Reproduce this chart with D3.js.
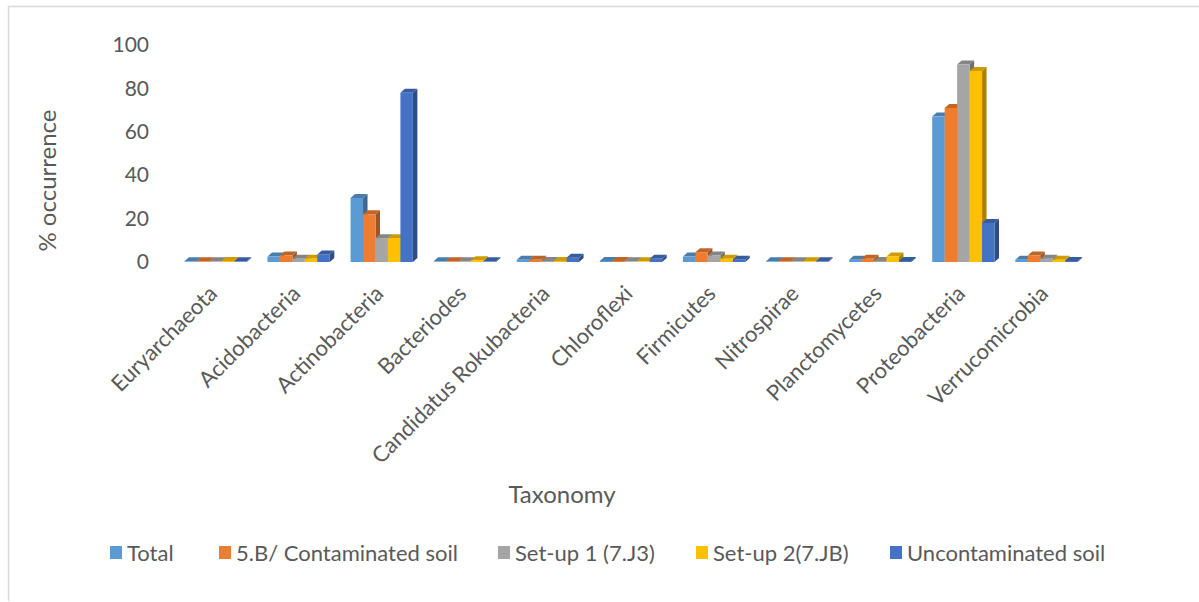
<!DOCTYPE html>
<html>
<head>
<meta charset="utf-8">
<script src="https://cdn.jsdelivr.net/npm/d3@7"></script>
<style>
  html, body { margin: 0; padding: 0; background: #fff; }
  svg { display: block; }
  text { font-family: Lato, "Open Sans", sans-serif; fill: #595959; }
</style>
</head>
<body>
<svg id="chart" width="1199" height="602"></svg>
<script>
// ---- data ----
const categories = ["Euryarchaeota", "Acidobacteria", "Actinobacteria", "Bacteriodes",
  "Candidatus Rokubacteria", "Chloroflexi", "Firmicutes", "Nitrospirae",
  "Planctomycetes", "Proteobacteria", "Verrucomicrobia"];
const seriesNames = ["Total", "5.B/ Contaminated soil", "Set-up 1 (7.J3)", "Set-up 2(7.JB)", "Uncontaminated soil"];
const totalValues          = [0.3, 2.5, 29.5, 0.3, 1.0, 0.5, 2.5, 0.3, 1.0, 67, 1.0];
const contaminatedValues   = [0.3, 3.0, 22,   0.3, 1.0, 0.5, 4.5, 0.3, 1.5, 71, 3.0];
const setup1Values         = [0.3, 1.5, 11,   0.3, 0.5, 0.3, 3.0, 0.3, 0.5, 91, 1.5];
const setup2Values         = [0.5, 1.5, 11,   0.8, 0.5, 0.3, 1.5, 0.3, 2.5, 88, 1.0];
const uncontaminatedValues = [0.3, 3.5, 78,   0.3, 2.0, 1.5, 1.0, 0.3, 0.5, 18, 0.5];
const yTicks = [0, 20, 40, 60, 80, 100];
const seriesColors = ["#5B9BD5", "#ED7D31", "#A5A5A5", "#FFC000", "#4472C4"];

const seriesValues = [totalValues, contaminatedValues, setup1Values, setup2Values, uncontaminatedValues];
const series = seriesNames.map((name, i) => ({ name, color: seriesColors[i], values: seriesValues[i] }));

// ---- layout ----
const svg = d3.select("#chart");
const plotLeft = 174, plotRight = 1088, plotTop = 45, plotBottom = 262;

// chart frame
svg.append("path")
  .attr("d", `M8.5,601 L8.5,6.5 L1199,6.5`)
  .attr("fill", "none").attr("stroke", "#d9d9d9").attr("stroke-width", 1.5);

const x0 = d3.scaleBand().domain(categories).range([plotLeft, plotRight]).paddingInner(0.25).paddingOuter(0.125);
const x1 = d3.scaleBand().domain(seriesNames).range([0, x0.bandwidth()]).padding(0);
const y = d3.scaleLinear().domain([0, 100]).range([plotBottom, plotTop]);

const depthX = 4.5, depthY = 4;

// y axis labels
const yAxis = d3.axisLeft(y).tickValues(yTicks).tickSize(0).tickPadding(0);
const yG = svg.append("g").attr("transform", `translate(149,0)`).call(yAxis);
yG.select(".domain").remove();
yG.selectAll("text").style("font-size", "21px").attr("fill", "#595959")
  .style("font-family", "Lato, 'Open Sans', sans-serif");

// y title
svg.append("text")
  .attr("transform", `translate(56,${(plotTop + plotBottom) / 2 + 27}) rotate(-90)`)
  .attr("text-anchor", "middle")
  .style("font-size", "24px")
  .text("% occurrence");

// bars (3D)
function shade(c, k) { return d3.color(c).darker(k).formatHex(); }

const groups = svg.append("g").selectAll("g.cat")
  .data(categories.map((c, ci) => ({ c, ci })))
  .join("g").attr("class", "cat")
  .attr("transform", d => `translate(${x0(d.c)},0)`);

groups.each(function(d) {
  const g = d3.select(this);
  series.forEach((s, si) => {
    const v = s.values[d.ci];
    const bx = x1(s.name), bw = x1.bandwidth();
    const top = y(v), base = y(0);
    // side face
    g.append("path")
      .attr("d", `M${bx + bw},${top} L${bx + bw + depthX},${top - depthY} L${bx + bw + depthX},${base - depthY} L${bx + bw},${base} Z`)
      .attr("fill", shade(s.color, 1.1));
    // top face
    g.append("path")
      .attr("d", `M${bx},${top} L${bx + depthX},${top - depthY} L${bx + bw + depthX},${top - depthY} L${bx + bw},${top} Z`)
      .attr("fill", shade(s.color, 0.6));
    // front face
    g.append("rect")
      .attr("x", bx).attr("y", top)
      .attr("width", bw).attr("height", Math.max(0, base - top))
      .attr("fill", s.color);
  });
});

// x labels
const xAxis = d3.axisBottom(x0).tickSize(0).tickPadding(0);
const xG = svg.append("g").attr("transform", `translate(0,${plotBottom})`).call(xAxis);
xG.select(".domain").remove();
xG.selectAll("text")
  .style("font-size", "22px")
  .style("font-family", "Lato, 'Open Sans', sans-serif")
  .attr("fill", "#595959")
  .attr("text-anchor", "end")
  .attr("dy", null).attr("y", null)
  .attr("transform", "translate(3,33) rotate(-45)");

// x title
svg.append("text")
  .attr("x", 562).attr("y", 503)
  .attr("text-anchor", "middle")
  .style("font-size", "24px")
  .text("Taxonomy");

// legend
const legendX = [110, 219, 498, 696, 890];
const legend = svg.append("g").selectAll("g")
  .data(series).join("g")
  .attr("transform", (d, i) => `translate(${legendX[i]},553)`);
legend.append("rect").attr("x", 0).attr("y", -7).attr("width", 12).attr("height", 13).attr("fill", d => d.color);
legend.append("text").attr("x", 17).attr("y", 0).attr("dy", "0.35em")
  .style("font-size", "22px").text(d => d.name);
</script>
</body>
</html>
